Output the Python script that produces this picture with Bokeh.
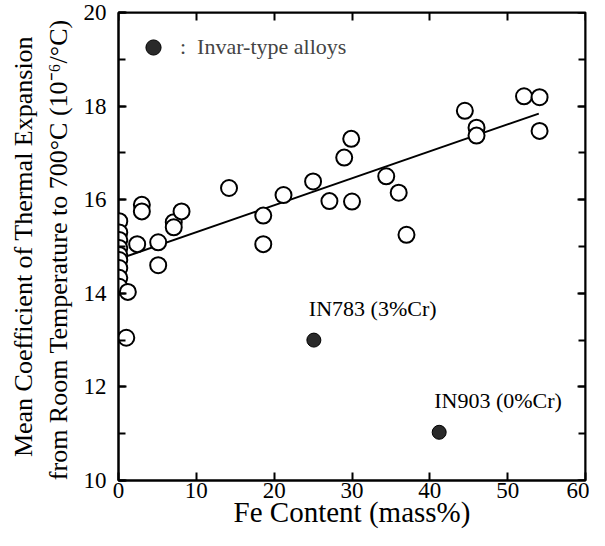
from bokeh.plotting import figure
from bokeh.models import (LinearAxis, SingleIntervalTicker, Range1d, Label, Legend, LegendItem,
                          CustomJSTickFormatter)
from bokeh.embed import file_html
from bokeh.resources import INLINE

# ---- data ----
fe_alloys = [0.1, 0.1, 0.1, 0.1, 0.1, 0.1, 0.1, 0.1, 0.1,
             1.2, 1.0, 3.0, 3.0, 2.4, 5.1, 5.1, 7.1, 7.1, 8.1,
             14.2, 21.2, 18.6, 18.6, 25.0, 27.1, 30.0, 29.0, 29.9,
             34.4, 36.0, 37.0, 44.5, 46.0, 46.0, 52.1, 54.1, 54.1]
cte_alloys = [15.54, 15.30, 15.14, 14.97, 14.82, 14.71, 14.54, 14.33, 14.14,
              14.03, 13.05, 15.89, 15.75, 15.05, 15.09, 14.60, 15.52, 15.41, 15.75,
              16.25, 16.10, 15.66, 15.05, 16.39, 15.97, 15.96, 16.90, 17.30,
              16.50, 16.15, 15.25, 17.90, 17.54, 17.37, 18.21, 18.19, 17.47]

fe_invar = [25.1, 41.2]
cte_invar = [13.0, 11.03]
invar_names = ["IN783 (3%Cr)", "IN903 (0%Cr)"]

fit_fe = [0.0, 54.0]
fit_cte = [14.73, 17.84]

x_title = "Fe Content (mass%)"
y_title = ("Mean Coefficient of Thermal Expansion\n"
           "from Room Temperature to 700°C  (10⁻⁶/°C)")
legend_text = ":  Invar-type alloys"

FONT = "Liberation Serif"

p = figure(width=589, height=530, output_backend="svg", toolbar_location=None,
           x_range=Range1d(0, 60), y_range=Range1d(10, 20),
           min_border_left=118, min_border_right=4, min_border_top=12, min_border_bottom=10,
           x_axis_label=x_title, y_axis_label=y_title)
p.grid.visible = False
p.outline_line_color = "black"
p.outline_line_width = 2

p.xaxis.ticker = SingleIntervalTicker(interval=10, num_minor_ticks=0)
p.yaxis.ticker = SingleIntervalTicker(interval=2, num_minor_ticks=2)

def style_axis(ax):
    ax.axis_line_width = 2
    ax.major_tick_line_width = 2
    ax.minor_tick_line_width = 2
    ax.major_tick_in = 8
    ax.major_tick_out = 0
    ax.minor_tick_in = 7
    ax.minor_tick_out = 0
    ax.major_label_text_font = FONT
    ax.major_label_text_font_size = "23px"
    ax.major_label_text_color = "black"
    ax.axis_label_text_font = FONT
    ax.axis_label_text_font_style = "normal"
    ax.axis_label_text_color = "black"

for ax in p.xaxis:
    style_axis(ax)
    ax.axis_label_text_font_size = "29px"
    ax.major_label_standoff = 2
    ax.axis_label_standoff = -5
for ax in p.yaxis:
    style_axis(ax)
    ax.axis_label_text_font_size = "26px"
    ax.major_label_standoff = 12
    ax.axis_label_standoff = 8

blank = CustomJSTickFormatter(code="return ''")
top = LinearAxis(ticker=SingleIntervalTicker(interval=10, num_minor_ticks=0), formatter=blank,
                 fixed_location=20)
style_axis(top)
top.major_label_standoff = 0
p.add_layout(top, "above")
right = LinearAxis(ticker=SingleIntervalTicker(interval=2, num_minor_ticks=2), formatter=blank,
                   fixed_location=60)
style_axis(right)
right.major_label_standoff = 0
p.add_layout(right, "right")

p.line(fit_fe, fit_cte, line_color="black", line_width=2)
p.scatter(fe_alloys, cte_alloys, size=16, fill_color="white", line_color="black", line_width=2)
inv = p.scatter(fe_invar, cte_invar, size=14, fill_color="#2a2a2a", line_color="black", line_width=1)

for x, y, t in zip(fe_invar, cte_invar, invar_names):
    p.add_layout(Label(x=x, y=y, x_offset=-5, y_offset=19, text=t,
                       text_font=FONT, text_font_size="22px", text_color="black"))

legend = Legend(items=[LegendItem(label=legend_text, renderers=[inv])],
                location="top_left", margin=0, padding=16, glyph_width=38, glyph_height=38,
                label_standoff=8, border_line_alpha=0, background_fill_alpha=0,
                label_text_font=FONT, label_text_font_size="22px")
p.add_layout(legend)

open("out.html", "w").write(file_html(p, INLINE))
